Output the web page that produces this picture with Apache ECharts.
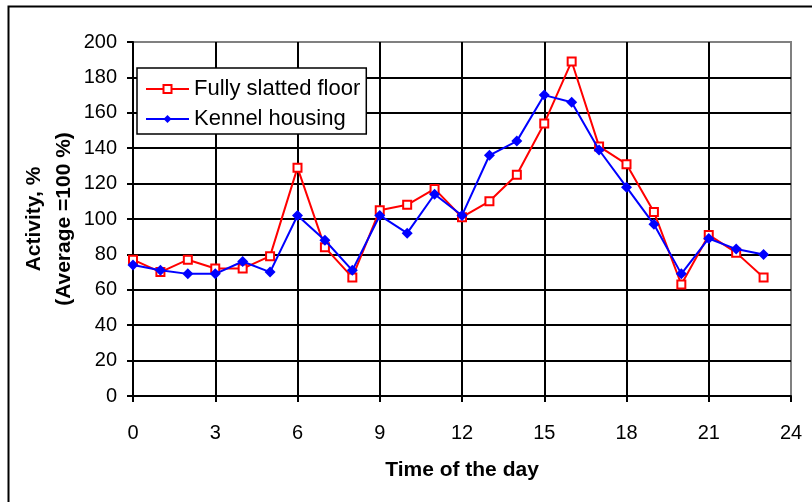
<!DOCTYPE html>
<html>
<head>
<meta charset="utf-8">
<script src="https://cdn.jsdelivr.net/npm/echarts@6/dist/echarts.min.js"></script>
<style>html,body{margin:0;padding:0;background:#fff}#c{width:812px;height:502px}</style>
</head>
<body>
<div id="c"></div>
<script>
var hours = [0,1,2,3,4,5,6,7,8,9,10,11,12,13,14,15,16,17,18,19,20,21,22,23];
var fullySlatted = [77,70,77,72,72,79,129,84,67,105,108,117,101,110,125,154,189,141,131,104,63,91,81,67];
var kennel = [74,71,69,69,76,70,102,88,71,102,92,114,102,136,144,170,166,139,118,97,69,89,83,80];
var seriesNames = ['Fully slatted floor', 'Kennel housing'];
var xTitle = 'Time of the day';
var yTitle = 'Activity, %\n(Average =100 %)';

function pairs(v){ return hours.map(function(h,i){ return [h, v[i]]; }); }

var FONT = '"Liberation Sans", Arial, sans-serif';
var chart = echarts.init(document.getElementById('c'), null, {renderer:'canvas'});
chart.setOption({
  animation:false,
  backgroundColor:'#fff',
  graphic:[{type:'rect', x:0, y:0, shape:{x:8.5, y:6.5, width:820, height:520}, style:{fill:'none', stroke:'#000', lineWidth:2}, z:-1}],
  grid:{left:133, right:21, top:42, bottom:106, show:true, borderColor:'#808080', borderWidth:2, backgroundColor:'transparent'},
  legend:{
    orient:'vertical', left:137, top:68,
    backgroundColor:'#fff', borderColor:'#000', borderWidth:1.5, borderRadius:0,
    padding:[10,6,4,8], itemGap:8, itemWidth:43, itemHeight:10,
    textStyle:{fontFamily:FONT, fontSize:22, color:'#000', lineHeight:22},
    data:seriesNames
  },
  xAxis:{
    type:'value', min:0, max:24, interval:3,
    name:xTitle, nameLocation:'middle', nameGap:64, nameMoveOverlap:false,
    nameTextStyle:{fontFamily:FONT, fontSize:21, fontWeight:'bold', color:'#000'},
    axisLine:{show:true, onZero:false, lineStyle:{color:'#000', width:2}},
    axisTick:{show:true, length:6, lineStyle:{color:'#000', width:2}},
    axisLabel:{margin:27, fontFamily:FONT, fontSize:20, color:'#000'},
    splitLine:{show:true, showMinLine:false, showMaxLine:false, lineStyle:{color:'#000', width:2}}
  },
  yAxis:{
    type:'value', min:0, max:200, interval:20,
    name:yTitle, nameLocation:'middle', nameGap:54, nameRotate:90, nameMoveOverlap:false,
    nameTextStyle:{fontFamily:FONT, fontSize:21, fontWeight:'bold', color:'#000', lineHeight:30},
    axisLine:{show:true, lineStyle:{color:'#000', width:2}},
    axisTick:{show:true, length:6, lineStyle:{color:'#000', width:2}},
    axisLabel:{margin:16, fontFamily:FONT, fontSize:20, color:'#000'},
    splitLine:{show:true, showMinLine:false, showMaxLine:false, lineStyle:{color:'#000', width:2}}
  },
  series:[
    {name:seriesNames[0], type:'line', data:pairs(fullySlatted), symbol:'emptyRect', symbolSize:8,
     lineStyle:{color:'#ff0000', width:2}, itemStyle:{color:'#ff0000', borderColor:'#ff0000', borderWidth:2}, z:3},
    {name:seriesNames[1], type:'line', data:pairs(kennel), symbol:'diamond', symbolSize:11,
     lineStyle:{color:'#0000ff', width:2}, itemStyle:{color:'#0000ff'}, z:4}
  ]
});
</script>
</body>
</html>
